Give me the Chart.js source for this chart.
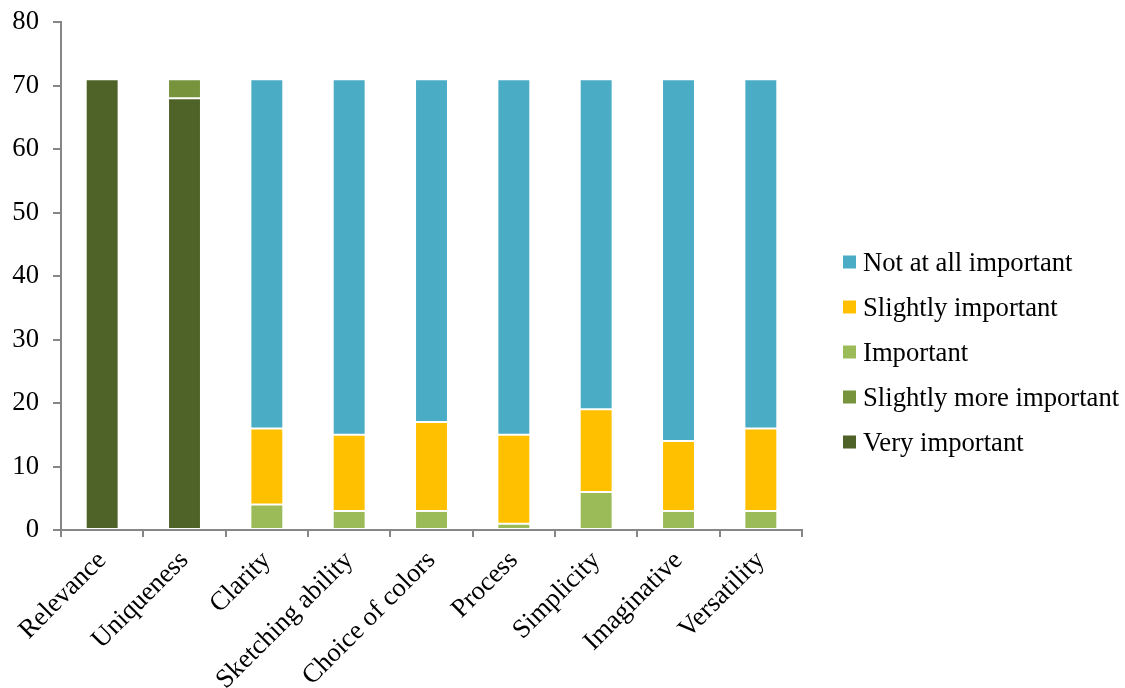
<!DOCTYPE html>
<html>
<head>
<meta charset="utf-8">
<script src="https://cdn.jsdelivr.net/npm/chart.js@4.4.1/dist/chart.umd.min.js"></script>
<style>
  html, body { margin: 0; padding: 0; background: #ffffff; }
  #wrap { width: 1125px; height: 688px; }
</style>
</head>
<body>
<div id="wrap"><canvas id="c" width="1125" height="688"></canvas></div>
<script>
const categories = ["Relevance", "Uniqueness", "Clarity", "Sketching ability", "Choice of colors", "Process", "Simplicity", "Imaginative", "Versatility"];
const veryImportant         = [71, 68, 0, 0, 0, 0, 0, 0, 0];
const slightlyMoreImportant = [0, 3, 0, 0, 0, 0, 0, 0, 0];
const important             = [0, 0, 4, 3, 3, 1, 6, 3, 3];
const slightlyImportant     = [0, 0, 12, 12, 14, 14, 13, 11, 13];
const notAtAllImportant     = [0, 0, 55, 56, 54, 56, 52, 57, 55];
const seriesNames = ["Very important", "Slightly more important", "Important", "Slightly important", "Not at all important"];
const yTicks = [0, 10, 20, 30, 40, 50, 60, 70, 80];

const colors = ["#4F6228", "#77933C", "#9BBB59", "#FFC000", "#4BACC6"];
const seriesData = [veryImportant, slightlyMoreImportant, important, slightlyImportant, notAtAllImportant];

const FONT = "'Liberation Serif', 'Times New Roman', serif";
const FS = 26.67;
const axisColor = "#868686";

// Side legend drawn from the chart's own datasets (reversed order, like the original)
const sideLegend = {
  id: "sideLegend",
  afterDraw(chart) {
    const ctx = chart.ctx;
    const dsets = chart.data.datasets.slice().reverse();
    const boxX = chart.chartArea.right + 41;
    const rowH = 45;
    const centerY = chart.height / 2 + 8;
    const startY = centerY - rowH * (dsets.length - 1) / 2;
    ctx.save();
    ctx.font = FS + "px " + FONT;
    ctx.textAlign = "left";
    ctx.textBaseline = "alphabetic";
    dsets.forEach((ds, i) => {
      const cy = startY + i * rowH;
      ctx.fillStyle = ds.backgroundColor;
      ctx.fillRect(boxX, cy - 6.5, 13, 13);
      ctx.fillStyle = "#000";
      ctx.fillText(ds.label, boxX + 20, cy + 9);
    });
    ctx.restore();
  }
};

new Chart(document.getElementById("c"), {
  type: "bar",
  data: {
    labels: categories,
    datasets: seriesData.map((d, i) => ({
      label: seriesNames[i],
      data: d,
      backgroundColor: colors[i],
      borderColor: "rgba(255,255,255,0.35)",
      borderWidth: 1,
      borderSkipped: false,
      categoryPercentage: 1.0,
      barPercentage: 0.4
    }))
  },
  plugins: [sideLegend],
  options: {
    responsive: false,
    animation: false,
    layout: { padding: { left: 0, top: 22, right: 323, bottom: 0 } },
    plugins: {
      tooltip: { enabled: false },
      legend: { display: false }
    },
    scales: {
      x: {
        stacked: true,
        offset: true,
        afterFit: (axis) => { axis.height = 158; },
        border: { color: axisColor, width: 2 },
        grid: { display: true, drawOnChartArea: false, offset: true, tickLength: 7, color: axisColor, lineWidth: 2 },
        ticks: {
          color: "#000",
          font: { family: FONT, size: FS },
          maxRotation: 45,
          minRotation: 45,
          autoSkip: false,
          padding: 8
        }
      },
      y: {
        stacked: true,
        min: 0,
        max: 80,
        afterFit: (axis) => { axis.width = 61; },
        afterBuildTicks: (axis) => { axis.ticks = yTicks.map(v => ({ value: v })); },
        border: { color: axisColor, width: 2 },
        grid: { display: true, drawOnChartArea: false, tickLength: 8, color: axisColor, lineWidth: 2 },
        ticks: {
          color: "#000",
          font: { family: FONT, size: FS, lineHeight: 0.4 },
          padding: 14
        }
      }
    }
  }
});
</script>
</body>
</html>
